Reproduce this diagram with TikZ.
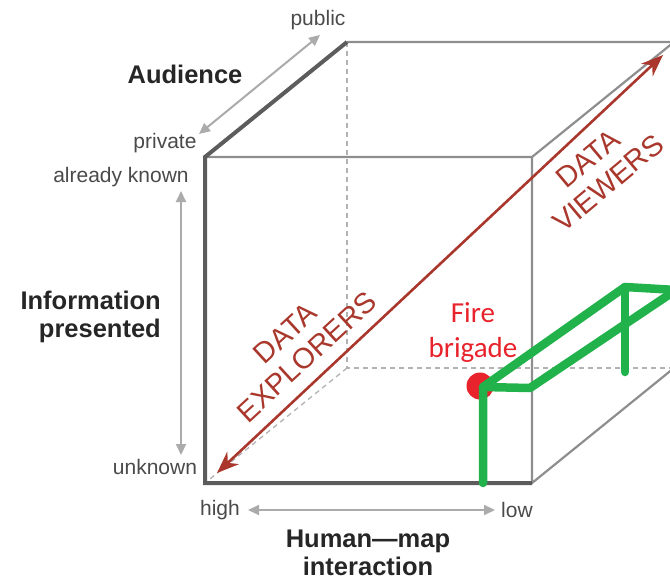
\documentclass[tikz,border=0pt]{standalone}
\usepackage{fontspec}
\setmainfont{Liberation Sans}
\newfontfamily\noteface{Carlito}
\usetikzlibrary{arrows.meta}
\definecolor{edgegray}{HTML}{8E8E8E}
\definecolor{darkedge}{HTML}{5C5C5C}
\definecolor{arrowgray}{HTML}{ABABAB}
\definecolor{datared}{HTML}{A9372C}
\definecolor{firered}{HTML}{E8232B}
\definecolor{railgreen}{HTML}{22B24C}
\definecolor{labelgray}{HTML}{4A4A4A}
\tikzset{thin edge/.style={draw=edgegray,line width=2.2pt},
  thick edge/.style={draw=darkedge,line width=4pt,line join=miter},
  hidden edge/.style={draw=black!30,line width=1.3pt,dash pattern=on 5pt off 4pt},
  axis label/.style={text=labelgray,font=\fontsize{21}{24}\selectfont,inner sep=0pt},
  axis title/.style={text=black!85,font=\bfseries\fontsize{25.5}{28}\selectfont,inner sep=0pt,align=center},
  axis arrow/.style={draw=arrowgray,line width=2pt,{Triangle[length=11pt,width=10pt]}-{Triangle[length=11pt,width=10pt]}},
  user label/.style={text=datared,font=\fontsize{29}{32}\selectfont,align=center,inner sep=0pt},
  rail/.style={draw=railgreen,line width=8.5pt,line cap=round,line join=round}}

\begin{document}
\begin{tikzpicture}[x=1pt,y=-1pt]
            \clip (0,0) rectangle (670,581);
            % cube corners
            \foreach \n/\x/\y in {ftl/205/157,ftr/532/157,fbl/205/483,fbr/532/483,btl/347/42,btr/674/42,bbl/347/368,bbr/674/368}{
                \coordinate (\n) at (\x,\y);
            }
            \draw[hidden edge] (btl) -- (bbl) -- (bbr);
            \draw[hidden edge] (bbl) -- (fbl);
            \draw[thin edge] (ftl) -- (ftr) -- (fbr) -- (bbr) -- (btr) -- (btl);
            \draw[thin edge] (ftr) -- (btr);
            \draw[thick edge] (btl) -- (ftl) -- (fbl) -- (fbr);

            % user types along the diagonal
            \coordinate (explore end) at (217,473);
            \coordinate (view end) at (663,55);
            \draw[datared,line width=2.6pt,{Stealth[length=22pt,width=17pt]}-{Stealth[length=22pt,width=17pt]}] (explore end) -- (view end);
            \node[user label,rotate=42.6] (explorers) at (296,345) {DATA\\EXPLORERS};
            \node[user label,rotate=40] (viewers) at (598,171) {DATA\\VIEWERS};

            % fire brigade
            \node[text=firered,font=\noteface\fontsize{29}{35}\selectfont,align=center,inner sep=0pt] (fire) at (473,333) {Fire\\brigade};
            \fill[firered] (480,386) circle (13.5pt);
            \foreach \n/\x/\y in {r1/483/483,r2/483/387,r3/625/287,r4/676/290,r5/530/388,r6/625/372}{
                \coordinate (\n) at (\x,\y);
            }
            \draw[rail] (r1) -- (r2) -- (r3) -- (r4);
            \draw[rail] (r2) -- (r5) -- (r4);
            \draw[rail] (r3) -- (r6);

            % axes
            \node[axis label] (public) at (318,20) {public};
            \node[axis title] (audience) at (185,74) {Audience};
            \node[axis label] (private) at (165,143) {private};
            \node[axis label] (known) at (121,177) {already known};
            \node[axis title,align=right,anchor=east] (info) at (161,317) {Information\\presented};
            \node[axis label] (unknown) at (155,467) {unknown};
            \node[axis label] (high) at (220,510) {high};
            \node[axis label] (low) at (517,510) {low};
            \node[axis title] (interaction) at (368,553) {Human—map\\interaction};
            \foreach \a/\b/\x/\y/\u/\v in {aud lo/aud hi/199/134/320/35,info hi/info lo/181/191/181/455,map hi/map lo/248/510/495/510}{
                \coordinate (\a) at (\x,\y);
                \coordinate (\b) at (\u,\v);
                \draw[axis arrow] (\a) -- (\b);
            }
        \end{tikzpicture}
\end{document}
